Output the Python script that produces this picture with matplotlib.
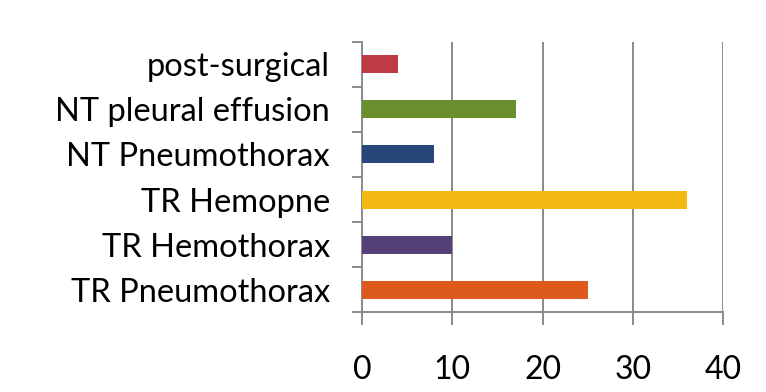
import numpy as np
import matplotlib
matplotlib.use('Agg')
import matplotlib.pyplot as plt

plt.rcParams['font.family'] = ['Lato', 'DejaVu Sans']

categories = ['TR Pneumothorax', 'TR Hemothorax', 'TR Hemopne',
              'NT Pneumothorax', 'NT pleural effusion', 'post-surgical']
values = [25, 10, 36, 8, 17, 4]
colors = ['#dd5a1c', '#553f77', '#f2b915', '#27467a', '#6a8f2f', '#be3a45']
xticks = [0, 10, 20, 30, 40]

grey = '#8a8a8a'

fig = plt.figure(figsize=(7.66, 3.92), dpi=100)
ax = fig.add_axes([0.4726, 0.2033, 0.9443 - 0.4726, 0.8936 - 0.2033])

y = np.arange(len(categories))
ax.barh(y, values, height=0.4, color=colors, zorder=3)

ax.set_xlim(0, 40)
ax.set_ylim(-0.5, len(categories) - 0.5)

ax.set_xticks(xticks)
ax.set_xticklabels([str(t) for t in xticks])
ax.set_yticks(y)
ax.set_yticklabels(categories)
ax.set_yticks(np.arange(-0.5, len(categories)), minor=True)

ax.tick_params(axis='y', which='major', length=0, pad=23, labelsize=23.5)
ax.tick_params(axis='y', which='minor', length=7.5, width=1.4, color=grey)
ax.tick_params(axis='x', length=9, width=1.4, color=grey, pad=22, labelsize=23)

for x in xticks[1:]:
    ax.axvline(x, color=grey, lw=1.4, zorder=1)

for s in ['top', 'right']:
    ax.spines[s].set_visible(False)
for s in ['left', 'bottom']:
    ax.spines[s].set_color(grey)
    ax.spines[s].set_linewidth(1.4)

fig.savefig('out.png', dpi=100)
